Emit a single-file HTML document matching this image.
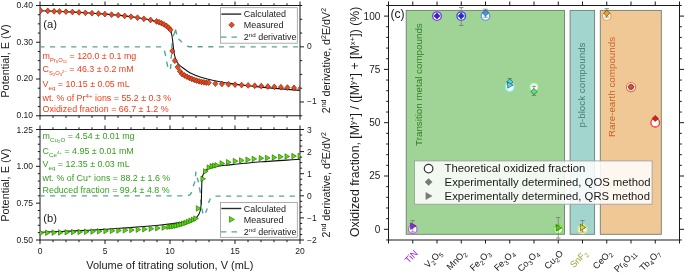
<!DOCTYPE html>
<html><head><meta charset="utf-8"><style>
html,body{margin:0;padding:0;background:#fff;width:685px;height:275px;overflow:hidden;}
svg{display:block;font-family:"Liberation Sans", sans-serif;}
</style></head><body>
<div style="will-change:transform"><svg width="685" height="275" viewBox="0 0 685 275">
<rect width="685" height="275" fill="#fff"/>
<rect x="40.0" y="5.5" width="260.0" height="110.25" fill="none" stroke="#1a1a1a" stroke-width="1"/>
<line x1="40" y1="5.5" x2="40" y2="1.5" stroke="#1a1a1a" stroke-width="1" />
<line x1="40" y1="115.75" x2="40" y2="119.75" stroke="#1a1a1a" stroke-width="1" />
<line x1="53" y1="5.5" x2="53" y2="3.3" stroke="#1a1a1a" stroke-width="1" />
<line x1="53" y1="115.75" x2="53" y2="117.95" stroke="#1a1a1a" stroke-width="1" />
<line x1="66" y1="5.5" x2="66" y2="3.3" stroke="#1a1a1a" stroke-width="1" />
<line x1="66" y1="115.75" x2="66" y2="117.95" stroke="#1a1a1a" stroke-width="1" />
<line x1="79" y1="5.5" x2="79" y2="3.3" stroke="#1a1a1a" stroke-width="1" />
<line x1="79" y1="115.75" x2="79" y2="117.95" stroke="#1a1a1a" stroke-width="1" />
<line x1="92" y1="5.5" x2="92" y2="3.3" stroke="#1a1a1a" stroke-width="1" />
<line x1="92" y1="115.75" x2="92" y2="117.95" stroke="#1a1a1a" stroke-width="1" />
<line x1="105" y1="5.5" x2="105" y2="1.5" stroke="#1a1a1a" stroke-width="1" />
<line x1="105" y1="115.75" x2="105" y2="119.75" stroke="#1a1a1a" stroke-width="1" />
<line x1="118" y1="5.5" x2="118" y2="3.3" stroke="#1a1a1a" stroke-width="1" />
<line x1="118" y1="115.75" x2="118" y2="117.95" stroke="#1a1a1a" stroke-width="1" />
<line x1="131" y1="5.5" x2="131" y2="3.3" stroke="#1a1a1a" stroke-width="1" />
<line x1="131" y1="115.75" x2="131" y2="117.95" stroke="#1a1a1a" stroke-width="1" />
<line x1="144" y1="5.5" x2="144" y2="3.3" stroke="#1a1a1a" stroke-width="1" />
<line x1="144" y1="115.75" x2="144" y2="117.95" stroke="#1a1a1a" stroke-width="1" />
<line x1="157" y1="5.5" x2="157" y2="3.3" stroke="#1a1a1a" stroke-width="1" />
<line x1="157" y1="115.75" x2="157" y2="117.95" stroke="#1a1a1a" stroke-width="1" />
<line x1="170" y1="5.5" x2="170" y2="1.5" stroke="#1a1a1a" stroke-width="1" />
<line x1="170" y1="115.75" x2="170" y2="119.75" stroke="#1a1a1a" stroke-width="1" />
<line x1="183" y1="5.5" x2="183" y2="3.3" stroke="#1a1a1a" stroke-width="1" />
<line x1="183" y1="115.75" x2="183" y2="117.95" stroke="#1a1a1a" stroke-width="1" />
<line x1="196" y1="5.5" x2="196" y2="3.3" stroke="#1a1a1a" stroke-width="1" />
<line x1="196" y1="115.75" x2="196" y2="117.95" stroke="#1a1a1a" stroke-width="1" />
<line x1="209" y1="5.5" x2="209" y2="3.3" stroke="#1a1a1a" stroke-width="1" />
<line x1="209" y1="115.75" x2="209" y2="117.95" stroke="#1a1a1a" stroke-width="1" />
<line x1="222" y1="5.5" x2="222" y2="3.3" stroke="#1a1a1a" stroke-width="1" />
<line x1="222" y1="115.75" x2="222" y2="117.95" stroke="#1a1a1a" stroke-width="1" />
<line x1="235" y1="5.5" x2="235" y2="1.5" stroke="#1a1a1a" stroke-width="1" />
<line x1="235" y1="115.75" x2="235" y2="119.75" stroke="#1a1a1a" stroke-width="1" />
<line x1="248" y1="5.5" x2="248" y2="3.3" stroke="#1a1a1a" stroke-width="1" />
<line x1="248" y1="115.75" x2="248" y2="117.95" stroke="#1a1a1a" stroke-width="1" />
<line x1="261" y1="5.5" x2="261" y2="3.3" stroke="#1a1a1a" stroke-width="1" />
<line x1="261" y1="115.75" x2="261" y2="117.95" stroke="#1a1a1a" stroke-width="1" />
<line x1="274" y1="5.5" x2="274" y2="3.3" stroke="#1a1a1a" stroke-width="1" />
<line x1="274" y1="115.75" x2="274" y2="117.95" stroke="#1a1a1a" stroke-width="1" />
<line x1="287" y1="5.5" x2="287" y2="3.3" stroke="#1a1a1a" stroke-width="1" />
<line x1="287" y1="115.75" x2="287" y2="117.95" stroke="#1a1a1a" stroke-width="1" />
<line x1="300" y1="5.5" x2="300" y2="1.5" stroke="#1a1a1a" stroke-width="1" />
<line x1="300" y1="115.75" x2="300" y2="119.75" stroke="#1a1a1a" stroke-width="1" />
<line x1="40" y1="5.5" x2="36" y2="5.5" stroke="#1a1a1a" stroke-width="1" />
<line x1="40" y1="14.69" x2="37.8" y2="14.69" stroke="#1a1a1a" stroke-width="1" />
<line x1="40" y1="23.87" x2="37.8" y2="23.87" stroke="#1a1a1a" stroke-width="1" />
<line x1="40" y1="33.06" x2="37.8" y2="33.06" stroke="#1a1a1a" stroke-width="1" />
<line x1="40" y1="42.25" x2="36" y2="42.25" stroke="#1a1a1a" stroke-width="1" />
<line x1="40" y1="51.44" x2="37.8" y2="51.44" stroke="#1a1a1a" stroke-width="1" />
<line x1="40" y1="60.63" x2="37.8" y2="60.63" stroke="#1a1a1a" stroke-width="1" />
<line x1="40" y1="69.81" x2="37.8" y2="69.81" stroke="#1a1a1a" stroke-width="1" />
<line x1="40" y1="79" x2="36" y2="79" stroke="#1a1a1a" stroke-width="1" />
<line x1="40" y1="88.19" x2="37.8" y2="88.19" stroke="#1a1a1a" stroke-width="1" />
<line x1="40" y1="97.38" x2="37.8" y2="97.38" stroke="#1a1a1a" stroke-width="1" />
<line x1="40" y1="106.56" x2="37.8" y2="106.56" stroke="#1a1a1a" stroke-width="1" />
<line x1="40" y1="115.75" x2="36" y2="115.75" stroke="#1a1a1a" stroke-width="1" />
<text x="33" y="7.9" font-size="8.5" fill="#1a1a1a" text-anchor="end" >0.40</text>
<text x="33" y="44.65" font-size="8.5" fill="#1a1a1a" text-anchor="end" >0.30</text>
<text x="33" y="81.4" font-size="8.5" fill="#1a1a1a" text-anchor="end" >0.20</text>
<text x="33" y="118.15" font-size="8.5" fill="#1a1a1a" text-anchor="end" >0.10</text>
<line x1="300" y1="5.5" x2="302.2" y2="5.5" stroke="#1a1a1a" stroke-width="1" />
<line x1="300" y1="19.28" x2="302.2" y2="19.28" stroke="#1a1a1a" stroke-width="1" />
<line x1="300" y1="33.06" x2="302.2" y2="33.06" stroke="#1a1a1a" stroke-width="1" />
<line x1="300" y1="46.84" x2="304" y2="46.84" stroke="#1a1a1a" stroke-width="1" />
<line x1="300" y1="60.62" x2="302.2" y2="60.62" stroke="#1a1a1a" stroke-width="1" />
<line x1="300" y1="74.41" x2="302.2" y2="74.41" stroke="#1a1a1a" stroke-width="1" />
<line x1="300" y1="88.19" x2="302.2" y2="88.19" stroke="#1a1a1a" stroke-width="1" />
<line x1="300" y1="101.97" x2="304" y2="101.97" stroke="#1a1a1a" stroke-width="1" />
<line x1="300" y1="115.75" x2="302.2" y2="115.75" stroke="#1a1a1a" stroke-width="1" />
<text x="307" y="49.24" font-size="8.5" fill="#1a1a1a" text-anchor="start" >0</text>
<text x="307" y="104.37" font-size="8.5" fill="#1a1a1a" text-anchor="start" >&#8722;1</text>
<rect x="40.0" y="129.5" width="260.0" height="110.5" fill="none" stroke="#1a1a1a" stroke-width="1"/>
<line x1="40" y1="129.5" x2="40" y2="125.5" stroke="#1a1a1a" stroke-width="1" />
<line x1="40" y1="240" x2="40" y2="244" stroke="#1a1a1a" stroke-width="1" />
<line x1="53" y1="129.5" x2="53" y2="127.3" stroke="#1a1a1a" stroke-width="1" />
<line x1="53" y1="240" x2="53" y2="242.2" stroke="#1a1a1a" stroke-width="1" />
<line x1="66" y1="129.5" x2="66" y2="127.3" stroke="#1a1a1a" stroke-width="1" />
<line x1="66" y1="240" x2="66" y2="242.2" stroke="#1a1a1a" stroke-width="1" />
<line x1="79" y1="129.5" x2="79" y2="127.3" stroke="#1a1a1a" stroke-width="1" />
<line x1="79" y1="240" x2="79" y2="242.2" stroke="#1a1a1a" stroke-width="1" />
<line x1="92" y1="129.5" x2="92" y2="127.3" stroke="#1a1a1a" stroke-width="1" />
<line x1="92" y1="240" x2="92" y2="242.2" stroke="#1a1a1a" stroke-width="1" />
<line x1="105" y1="129.5" x2="105" y2="125.5" stroke="#1a1a1a" stroke-width="1" />
<line x1="105" y1="240" x2="105" y2="244" stroke="#1a1a1a" stroke-width="1" />
<line x1="118" y1="129.5" x2="118" y2="127.3" stroke="#1a1a1a" stroke-width="1" />
<line x1="118" y1="240" x2="118" y2="242.2" stroke="#1a1a1a" stroke-width="1" />
<line x1="131" y1="129.5" x2="131" y2="127.3" stroke="#1a1a1a" stroke-width="1" />
<line x1="131" y1="240" x2="131" y2="242.2" stroke="#1a1a1a" stroke-width="1" />
<line x1="144" y1="129.5" x2="144" y2="127.3" stroke="#1a1a1a" stroke-width="1" />
<line x1="144" y1="240" x2="144" y2="242.2" stroke="#1a1a1a" stroke-width="1" />
<line x1="157" y1="129.5" x2="157" y2="127.3" stroke="#1a1a1a" stroke-width="1" />
<line x1="157" y1="240" x2="157" y2="242.2" stroke="#1a1a1a" stroke-width="1" />
<line x1="170" y1="129.5" x2="170" y2="125.5" stroke="#1a1a1a" stroke-width="1" />
<line x1="170" y1="240" x2="170" y2="244" stroke="#1a1a1a" stroke-width="1" />
<line x1="183" y1="129.5" x2="183" y2="127.3" stroke="#1a1a1a" stroke-width="1" />
<line x1="183" y1="240" x2="183" y2="242.2" stroke="#1a1a1a" stroke-width="1" />
<line x1="196" y1="129.5" x2="196" y2="127.3" stroke="#1a1a1a" stroke-width="1" />
<line x1="196" y1="240" x2="196" y2="242.2" stroke="#1a1a1a" stroke-width="1" />
<line x1="209" y1="129.5" x2="209" y2="127.3" stroke="#1a1a1a" stroke-width="1" />
<line x1="209" y1="240" x2="209" y2="242.2" stroke="#1a1a1a" stroke-width="1" />
<line x1="222" y1="129.5" x2="222" y2="127.3" stroke="#1a1a1a" stroke-width="1" />
<line x1="222" y1="240" x2="222" y2="242.2" stroke="#1a1a1a" stroke-width="1" />
<line x1="235" y1="129.5" x2="235" y2="125.5" stroke="#1a1a1a" stroke-width="1" />
<line x1="235" y1="240" x2="235" y2="244" stroke="#1a1a1a" stroke-width="1" />
<line x1="248" y1="129.5" x2="248" y2="127.3" stroke="#1a1a1a" stroke-width="1" />
<line x1="248" y1="240" x2="248" y2="242.2" stroke="#1a1a1a" stroke-width="1" />
<line x1="261" y1="129.5" x2="261" y2="127.3" stroke="#1a1a1a" stroke-width="1" />
<line x1="261" y1="240" x2="261" y2="242.2" stroke="#1a1a1a" stroke-width="1" />
<line x1="274" y1="129.5" x2="274" y2="127.3" stroke="#1a1a1a" stroke-width="1" />
<line x1="274" y1="240" x2="274" y2="242.2" stroke="#1a1a1a" stroke-width="1" />
<line x1="287" y1="129.5" x2="287" y2="127.3" stroke="#1a1a1a" stroke-width="1" />
<line x1="287" y1="240" x2="287" y2="242.2" stroke="#1a1a1a" stroke-width="1" />
<line x1="300" y1="129.5" x2="300" y2="125.5" stroke="#1a1a1a" stroke-width="1" />
<line x1="300" y1="240" x2="300" y2="244" stroke="#1a1a1a" stroke-width="1" />
<line x1="40" y1="129.5" x2="36" y2="129.5" stroke="#1a1a1a" stroke-width="1" />
<line x1="40" y1="136.87" x2="37.8" y2="136.87" stroke="#1a1a1a" stroke-width="1" />
<line x1="40" y1="144.23" x2="37.8" y2="144.23" stroke="#1a1a1a" stroke-width="1" />
<line x1="40" y1="151.6" x2="37.8" y2="151.6" stroke="#1a1a1a" stroke-width="1" />
<line x1="40" y1="158.97" x2="37.8" y2="158.97" stroke="#1a1a1a" stroke-width="1" />
<line x1="40" y1="166.33" x2="36" y2="166.33" stroke="#1a1a1a" stroke-width="1" />
<line x1="40" y1="173.7" x2="37.8" y2="173.7" stroke="#1a1a1a" stroke-width="1" />
<line x1="40" y1="181.07" x2="37.8" y2="181.07" stroke="#1a1a1a" stroke-width="1" />
<line x1="40" y1="188.43" x2="37.8" y2="188.43" stroke="#1a1a1a" stroke-width="1" />
<line x1="40" y1="195.8" x2="37.8" y2="195.8" stroke="#1a1a1a" stroke-width="1" />
<line x1="40" y1="203.17" x2="36" y2="203.17" stroke="#1a1a1a" stroke-width="1" />
<line x1="40" y1="210.53" x2="37.8" y2="210.53" stroke="#1a1a1a" stroke-width="1" />
<line x1="40" y1="217.9" x2="37.8" y2="217.9" stroke="#1a1a1a" stroke-width="1" />
<line x1="40" y1="225.27" x2="37.8" y2="225.27" stroke="#1a1a1a" stroke-width="1" />
<line x1="40" y1="232.63" x2="37.8" y2="232.63" stroke="#1a1a1a" stroke-width="1" />
<line x1="40" y1="240" x2="36" y2="240" stroke="#1a1a1a" stroke-width="1" />
<text x="33" y="132.5" font-size="8.5" fill="#1a1a1a" text-anchor="end" >1.25</text>
<text x="33" y="169.33" font-size="8.5" fill="#1a1a1a" text-anchor="end" >1.00</text>
<text x="33" y="206.17" font-size="8.5" fill="#1a1a1a" text-anchor="end" >0.75</text>
<text x="33" y="243" font-size="8.5" fill="#1a1a1a" text-anchor="end" >0.50</text>
<line x1="300" y1="129.5" x2="304" y2="129.5" stroke="#1a1a1a" stroke-width="1" />
<line x1="300" y1="135.03" x2="302.2" y2="135.03" stroke="#1a1a1a" stroke-width="1" />
<line x1="300" y1="140.55" x2="302.2" y2="140.55" stroke="#1a1a1a" stroke-width="1" />
<line x1="300" y1="146.07" x2="302.2" y2="146.07" stroke="#1a1a1a" stroke-width="1" />
<line x1="300" y1="151.6" x2="304" y2="151.6" stroke="#1a1a1a" stroke-width="1" />
<line x1="300" y1="157.12" x2="302.2" y2="157.12" stroke="#1a1a1a" stroke-width="1" />
<line x1="300" y1="162.65" x2="302.2" y2="162.65" stroke="#1a1a1a" stroke-width="1" />
<line x1="300" y1="168.18" x2="302.2" y2="168.18" stroke="#1a1a1a" stroke-width="1" />
<line x1="300" y1="173.7" x2="304" y2="173.7" stroke="#1a1a1a" stroke-width="1" />
<line x1="300" y1="179.22" x2="302.2" y2="179.22" stroke="#1a1a1a" stroke-width="1" />
<line x1="300" y1="184.75" x2="302.2" y2="184.75" stroke="#1a1a1a" stroke-width="1" />
<line x1="300" y1="190.28" x2="302.2" y2="190.28" stroke="#1a1a1a" stroke-width="1" />
<line x1="300" y1="195.8" x2="304" y2="195.8" stroke="#1a1a1a" stroke-width="1" />
<line x1="300" y1="201.32" x2="302.2" y2="201.32" stroke="#1a1a1a" stroke-width="1" />
<line x1="300" y1="206.85" x2="302.2" y2="206.85" stroke="#1a1a1a" stroke-width="1" />
<line x1="300" y1="212.38" x2="302.2" y2="212.38" stroke="#1a1a1a" stroke-width="1" />
<line x1="300" y1="217.9" x2="304" y2="217.9" stroke="#1a1a1a" stroke-width="1" />
<line x1="300" y1="223.43" x2="302.2" y2="223.43" stroke="#1a1a1a" stroke-width="1" />
<line x1="300" y1="228.95" x2="302.2" y2="228.95" stroke="#1a1a1a" stroke-width="1" />
<line x1="300" y1="234.47" x2="302.2" y2="234.47" stroke="#1a1a1a" stroke-width="1" />
<line x1="300" y1="240" x2="304" y2="240" stroke="#1a1a1a" stroke-width="1" />
<text x="307" y="132.7" font-size="8.5" fill="#1a1a1a" text-anchor="start" >3</text>
<text x="307" y="154.8" font-size="8.5" fill="#1a1a1a" text-anchor="start" >2</text>
<text x="307" y="176.9" font-size="8.5" fill="#1a1a1a" text-anchor="start" >1</text>
<text x="307" y="199" font-size="8.5" fill="#1a1a1a" text-anchor="start" >0</text>
<text x="307" y="221.1" font-size="8.5" fill="#1a1a1a" text-anchor="start" >&#8722;1</text>
<text x="307" y="243.2" font-size="8.5" fill="#1a1a1a" text-anchor="start" >&#8722;2</text>
<text x="40" y="253.8" font-size="8.5" fill="#1a1a1a" text-anchor="middle" >0</text>
<text x="105" y="253.8" font-size="8.5" fill="#1a1a1a" text-anchor="middle" >5</text>
<text x="170" y="253.8" font-size="8.5" fill="#1a1a1a" text-anchor="middle" >10</text>
<text x="235" y="253.8" font-size="8.5" fill="#1a1a1a" text-anchor="middle" >15</text>
<text x="300" y="253.8" font-size="8.5" fill="#1a1a1a" text-anchor="middle" >20</text>
<text x="169.9" y="269.3" font-size="10.95" fill="#1a1a1a" text-anchor="middle" >Volume of titrating solution, V (mL)</text>
<text x="0" y="0" font-size="10.9" fill="#1a1a1a" text-anchor="middle" transform="translate(8.7,61.02) rotate(-90)">Potential, E (V)</text>
<text x="0" y="0" font-size="10.7" fill="#1a1a1a" text-anchor="middle" transform="translate(329.8,60.62) rotate(-90)">2<tspan font-size="7" dy="-3.5">nd</tspan><tspan dy="3.5"> derivative, d</tspan><tspan font-size="7" dy="-3.5">2</tspan><tspan dy="3.5">E/dV</tspan><tspan font-size="7" dy="-3.5">2</tspan></text>
<text x="0" y="0" font-size="10.9" fill="#1a1a1a" text-anchor="middle" transform="translate(8.7,185.15) rotate(-90)">Potential, E (V)</text>
<text x="0" y="0" font-size="10.7" fill="#1a1a1a" text-anchor="middle" transform="translate(329.8,184.75) rotate(-90)">2<tspan font-size="7" dy="-3.5">nd</tspan><tspan dy="3.5"> derivative, d</tspan><tspan font-size="7" dy="-3.5">2</tspan><tspan dy="3.5">E/dV</tspan><tspan font-size="7" dy="-3.5">2</tspan></text>
<defs><clipPath id="ca"><rect x="40.0" y="5.5" width="260.0" height="110.25"/></clipPath><clipPath id="cb"><rect x="40.0" y="129.5" width="260.0" height="110.5"/></clipPath></defs>
<g clip-path="url(#ca)">
<path d="M39.45,46.9 L161.8,46.9" fill="none" stroke="#52a597" stroke-width="1.4" stroke-linejoin="round" stroke-dasharray="5.1 5.5"/>
<path d="M164.4,50.6 L165.7,56" fill="none" stroke="#52a597" stroke-width="1.4" stroke-linejoin="round" />
<path d="M166.6,61.6 L167.8,66.8" fill="none" stroke="#52a597" stroke-width="1.4" stroke-linejoin="round" />
<path d="M170.5,69 L170.9,64" fill="none" stroke="#52a597" stroke-width="1.4" stroke-linejoin="round" />
<path d="M171.1,58.8 L171.6,53.8" fill="none" stroke="#52a597" stroke-width="1.4" stroke-linejoin="round" />
<path d="M171.7,48 L172.3,43.2" fill="none" stroke="#52a597" stroke-width="1.4" stroke-linejoin="round" />
<path d="M173.2,36.2 L175.6,29.9 L176.7,34.3" fill="none" stroke="#52a597" stroke-width="1.4" stroke-linejoin="round" />
<path d="M178.5,39.1 L180.2,40.5 L182,42.2" fill="none" stroke="#52a597" stroke-width="1.4" stroke-linejoin="round" />
<path d="M187.2,46 L189,46.8 L302,46.9" fill="none" stroke="#52a597" stroke-width="1.4" stroke-linejoin="round" stroke-dasharray="5.1 5.5"/>
<path d="M40,10.8 C42.33,10.87 49.67,11.05 54,11.2 C58.33,11.35 61.83,11.5 66,11.7 C70.17,11.9 74.67,12.15 79,12.4 C83.33,12.65 87.67,12.92 92,13.2 C96.33,13.48 100.67,13.77 105,14.1 C109.33,14.43 113.67,14.78 118,15.2 C122.33,15.62 126.67,16.02 131,16.6 C135.33,17.18 140.5,18.07 144,18.7 C147.5,19.33 149.67,19.8 152,20.4 C154.33,21 156.17,21.6 158,22.3 C159.83,23 161.5,23.82 163,24.6 C164.5,25.38 165.92,26.22 167,27 C168.08,27.78 168.83,28.5 169.5,29.3 C170.17,30.1 170.58,30.68 171,31.8 C171.42,32.92 171.7,34.3 172,36 C172.3,37.7 172.53,39.83 172.8,42 C173.07,44.17 173.32,46.83 173.6,49 C173.88,51.17 174.1,53.2 174.5,55 C174.9,56.8 175.42,58.38 176,59.8 C176.58,61.22 176.88,62.18 178,63.5 C179.12,64.82 180.63,66.12 182.7,67.7 C184.77,69.28 187.22,71.35 190.4,73 C193.58,74.65 197.78,76.3 201.8,77.6 C205.82,78.9 209.8,79.83 214.5,80.8 C219.2,81.77 224.08,82.53 230,83.4 C235.92,84.27 242.5,85.17 250,86 C257.5,86.83 266.67,87.67 275,88.4 C283.33,89.13 295.83,90.07 300,90.4" fill="none" stroke="#111" stroke-width="1.1" stroke-linejoin="round" />
<path d="M40.5,7.7 L43.05,10.6 L40.5,13.5 L37.95,10.6Z" fill="#f5461c" stroke="#5a1e0a" stroke-width="0.6"/>
<path d="M47.8,8 L50.35,10.9 L47.8,13.8 L45.25,10.9Z" fill="#f5461c" stroke="#5a1e0a" stroke-width="0.6"/>
<path d="M54.1,8.4 L56.65,11.3 L54.1,14.2 L51.55,11.3Z" fill="#f5461c" stroke="#5a1e0a" stroke-width="0.6"/>
<path d="M59.5,8.6 L62.05,11.5 L59.5,14.4 L56.95,11.5Z" fill="#f5461c" stroke="#5a1e0a" stroke-width="0.6"/>
<path d="M66,8.8 L68.55,11.7 L66,14.6 L63.45,11.7Z" fill="#f5461c" stroke="#5a1e0a" stroke-width="0.6"/>
<path d="M72.4,9.1 L74.95,12 L72.4,14.9 L69.85,12Z" fill="#f5461c" stroke="#5a1e0a" stroke-width="0.6"/>
<path d="M79,9.5 L81.55,12.4 L79,15.3 L76.45,12.4Z" fill="#f5461c" stroke="#5a1e0a" stroke-width="0.6"/>
<path d="M85.4,9.9 L87.95,12.8 L85.4,15.7 L82.85,12.8Z" fill="#f5461c" stroke="#5a1e0a" stroke-width="0.6"/>
<path d="M92,10.3 L94.55,13.2 L92,16.1 L89.45,13.2Z" fill="#f5461c" stroke="#5a1e0a" stroke-width="0.6"/>
<path d="M98.5,10.7 L101.05,13.6 L98.5,16.5 L95.95,13.6Z" fill="#f5461c" stroke="#5a1e0a" stroke-width="0.6"/>
<path d="M104.9,11.2 L107.45,14.1 L104.9,17 L102.35,14.1Z" fill="#f5461c" stroke="#5a1e0a" stroke-width="0.6"/>
<path d="M111.6,11.8 L114.15,14.7 L111.6,17.6 L109.05,14.7Z" fill="#f5461c" stroke="#5a1e0a" stroke-width="0.6"/>
<path d="M118.2,12.3 L120.75,15.2 L118.2,18.1 L115.65,15.2Z" fill="#f5461c" stroke="#5a1e0a" stroke-width="0.6"/>
<path d="M124.7,13 L127.25,15.9 L124.7,18.8 L122.15,15.9Z" fill="#f5461c" stroke="#5a1e0a" stroke-width="0.6"/>
<path d="M131,13.8 L133.55,16.7 L131,19.6 L128.45,16.7Z" fill="#f5461c" stroke="#5a1e0a" stroke-width="0.6"/>
<path d="M137.5,14.8 L140.05,17.7 L137.5,20.6 L134.95,17.7Z" fill="#f5461c" stroke="#5a1e0a" stroke-width="0.6"/>
<path d="M143.9,15.9 L146.45,18.8 L143.9,21.7 L141.35,18.8Z" fill="#f5461c" stroke="#5a1e0a" stroke-width="0.6"/>
<path d="M150.5,17.1 L153.05,20 L150.5,22.9 L147.95,20Z" fill="#f5461c" stroke="#5a1e0a" stroke-width="0.6"/>
<path d="M156.5,18.5 L159.05,21.4 L156.5,24.3 L153.95,21.4Z" fill="#f5461c" stroke="#5a1e0a" stroke-width="0.6"/>
<path d="M159,19.3 L161.55,22.2 L159,25.1 L156.45,22.2Z" fill="#f5461c" stroke="#5a1e0a" stroke-width="0.6"/>
<path d="M161.5,20.3 L164.05,23.2 L161.5,26.1 L158.95,23.2Z" fill="#f5461c" stroke="#5a1e0a" stroke-width="0.6"/>
<path d="M164,21.5 L166.55,24.4 L164,27.3 L161.45,24.4Z" fill="#f5461c" stroke="#5a1e0a" stroke-width="0.6"/>
<path d="M166.4,23 L168.95,25.9 L166.4,28.8 L163.85,25.9Z" fill="#f5461c" stroke="#5a1e0a" stroke-width="0.6"/>
<path d="M168.6,24.8 L171.15,27.7 L168.6,30.6 L166.05,27.7Z" fill="#f5461c" stroke="#5a1e0a" stroke-width="0.6"/>
<path d="M170.5,26.9 L173.05,29.8 L170.5,32.7 L167.95,29.8Z" fill="#f5461c" stroke="#5a1e0a" stroke-width="0.6"/>
<path d="M172.3,48.1 L174.85,51 L172.3,53.9 L169.75,51Z" fill="#f5461c" stroke="#5a1e0a" stroke-width="0.6"/>
<path d="M174.8,57.8 L177.35,60.7 L174.8,63.6 L172.25,60.7Z" fill="#f5461c" stroke="#5a1e0a" stroke-width="0.6"/>
<path d="M177.6,64.2 L180.15,67.1 L177.6,70 L175.05,67.1Z" fill="#f5461c" stroke="#5a1e0a" stroke-width="0.6"/>
<path d="M179.9,68.4 L182.45,71.3 L179.9,74.2 L177.35,71.3Z" fill="#f5461c" stroke="#5a1e0a" stroke-width="0.6"/>
<path d="M182.1,71.2 L184.65,74.1 L182.1,77 L179.55,74.1Z" fill="#f5461c" stroke="#5a1e0a" stroke-width="0.6"/>
<path d="M184.52,72.56 L187.07,75.46 L184.52,78.36 L181.97,75.46Z" fill="#f5461c" stroke="#5a1e0a" stroke-width="0.6"/>
<path d="M186.94,73.81 L189.49,76.71 L186.94,79.61 L184.39,76.71Z" fill="#f5461c" stroke="#5a1e0a" stroke-width="0.6"/>
<path d="M189.36,74.95 L191.91,77.85 L189.36,80.75 L186.81,77.85Z" fill="#f5461c" stroke="#5a1e0a" stroke-width="0.6"/>
<path d="M191.78,75.99 L194.33,78.89 L191.78,81.79 L189.23,78.89Z" fill="#f5461c" stroke="#5a1e0a" stroke-width="0.6"/>
<path d="M194.2,76.91 L196.75,79.81 L194.2,82.71 L191.65,79.81Z" fill="#f5461c" stroke="#5a1e0a" stroke-width="0.6"/>
<path d="M196.62,77.72 L199.17,80.62 L196.62,83.52 L194.07,80.62Z" fill="#f5461c" stroke="#5a1e0a" stroke-width="0.6"/>
<path d="M199.04,78.41 L201.59,81.31 L199.04,84.21 L196.49,81.31Z" fill="#f5461c" stroke="#5a1e0a" stroke-width="0.6"/>
<path d="M201.46,78.97 L204.01,81.87 L201.46,84.77 L198.91,81.87Z" fill="#f5461c" stroke="#5a1e0a" stroke-width="0.6"/>
<path d="M203.88,79.4 L206.43,82.3 L203.88,85.2 L201.33,82.3Z" fill="#f5461c" stroke="#5a1e0a" stroke-width="0.6"/>
<path d="M206.3,79.69 L208.85,82.59 L206.3,85.49 L203.75,82.59Z" fill="#f5461c" stroke="#5a1e0a" stroke-width="0.6"/>
<path d="M208.72,79.8 L211.27,82.7 L208.72,85.6 L206.17,82.7Z" fill="#f5461c" stroke="#5a1e0a" stroke-width="0.6"/>
<path d="M215.4,80.7 L217.95,83.6 L215.4,86.5 L212.85,83.6Z" fill="#f5461c" stroke="#5a1e0a" stroke-width="0.6"/>
<path d="M221.95,81.06 L224.5,83.96 L221.95,86.86 L219.4,83.96Z" fill="#f5461c" stroke="#5a1e0a" stroke-width="0.6"/>
<path d="M228.5,81.42 L231.05,84.32 L228.5,87.22 L225.95,84.32Z" fill="#f5461c" stroke="#5a1e0a" stroke-width="0.6"/>
<path d="M235.05,81.78 L237.6,84.68 L235.05,87.58 L232.5,84.68Z" fill="#f5461c" stroke="#5a1e0a" stroke-width="0.6"/>
<path d="M241.6,82.14 L244.15,85.04 L241.6,87.94 L239.05,85.04Z" fill="#f5461c" stroke="#5a1e0a" stroke-width="0.6"/>
<path d="M248.15,82.5 L250.7,85.4 L248.15,88.3 L245.6,85.4Z" fill="#f5461c" stroke="#5a1e0a" stroke-width="0.6"/>
<path d="M254.7,82.86 L257.25,85.76 L254.7,88.66 L252.15,85.76Z" fill="#f5461c" stroke="#5a1e0a" stroke-width="0.6"/>
<path d="M261.25,83.22 L263.8,86.12 L261.25,89.02 L258.7,86.12Z" fill="#f5461c" stroke="#5a1e0a" stroke-width="0.6"/>
<path d="M267.8,83.58 L270.35,86.48 L267.8,89.38 L265.25,86.48Z" fill="#f5461c" stroke="#5a1e0a" stroke-width="0.6"/>
<path d="M274.35,83.94 L276.9,86.84 L274.35,89.74 L271.8,86.84Z" fill="#f5461c" stroke="#5a1e0a" stroke-width="0.6"/>
<path d="M280.9,84.3 L283.45,87.2 L280.9,90.1 L278.35,87.2Z" fill="#f5461c" stroke="#5a1e0a" stroke-width="0.6"/>
<path d="M287.45,84.66 L290,87.56 L287.45,90.46 L284.9,87.56Z" fill="#f5461c" stroke="#5a1e0a" stroke-width="0.6"/>
<path d="M294,85.02 L296.55,87.92 L294,90.82 L291.45,87.92Z" fill="#f5461c" stroke="#5a1e0a" stroke-width="0.6"/>
<path d="M300.55,85.38 L303.1,88.28 L300.55,91.18 L298,88.28Z" fill="#f5461c" stroke="#5a1e0a" stroke-width="0.6"/>
<path d="M307.1,85.74 L309.65,88.64 L307.1,91.54 L304.55,88.64Z" fill="#f5461c" stroke="#5a1e0a" stroke-width="0.6"/>
</g>
<g clip-path="url(#cb)">
<path d="M39.45,195.9 L187.9,195.9" fill="none" stroke="#52a597" stroke-width="1.4" stroke-linejoin="round" stroke-dasharray="5.1 5.5"/>
<path d="M187.9,195.7 L190.2,194.6 L191.7,192.2" fill="none" stroke="#52a597" stroke-width="1.4" stroke-linejoin="round" />
<path d="M193.3,186.3 L194.9,181.4" fill="none" stroke="#52a597" stroke-width="1.4" stroke-linejoin="round" />
<path d="M195.5,176.3 L195.9,171.6" fill="none" stroke="#52a597" stroke-width="1.4" stroke-linejoin="round" />
<path d="M197.2,177.6 L198.5,182.3" fill="none" stroke="#52a597" stroke-width="1.4" stroke-linejoin="round" />
<path d="M199.3,187.4 L200.4,192.8" fill="none" stroke="#52a597" stroke-width="1.4" stroke-linejoin="round" />
<path d="M200.7,199.6 L201.5,204.5" fill="none" stroke="#52a597" stroke-width="1.4" stroke-linejoin="round" />
<path d="M201.8,208.4 L202.9,213.3" fill="none" stroke="#52a597" stroke-width="1.4" stroke-linejoin="round" />
<path d="M205.6,212.7 L207.3,208.4" fill="none" stroke="#52a597" stroke-width="1.4" stroke-linejoin="round" />
<path d="M208.4,202.9 L210.5,198.5" fill="none" stroke="#52a597" stroke-width="1.4" stroke-linejoin="round" />
<path d="M215.5,196.1 L302,196.1" fill="none" stroke="#52a597" stroke-width="1.4" stroke-linejoin="round" stroke-dasharray="5.1 5.5"/>
<path d="M40,232.3 C43.33,232.17 53.33,231.78 60,231.5 C66.67,231.22 73.33,230.92 80,230.6 C86.67,230.28 93.33,229.98 100,229.6 C106.67,229.22 113.33,228.77 120,228.3 C126.67,227.83 132.83,227.4 140,226.8 C147.17,226.2 156.33,225.4 163,224.7 C169.67,224 175.5,223.22 180,222.6 C184.5,221.98 187.48,221.67 190,221 C192.52,220.33 193.62,219.73 195.1,218.6 C196.58,217.47 197.98,215.8 198.9,214.2 C199.82,212.6 200.2,211.03 200.6,209 C201,206.97 201.13,205.17 201.3,202 C201.47,198.83 201.47,193.83 201.6,190 C201.73,186.17 201.83,181.63 202.1,179 C202.37,176.37 202.72,175.53 203.2,174.2 C203.68,172.87 204.2,171.9 205,171 C205.8,170.1 207,169.37 208,168.8 C209,168.23 209.83,167.97 211,167.6 C212.17,167.23 212.67,166.98 215,166.6 C217.33,166.22 221.67,165.68 225,165.3 C228.33,164.92 231.67,164.63 235,164.3 C238.33,163.97 241.67,163.63 245,163.3 C248.33,162.97 251.67,162.58 255,162.3 C258.33,162.02 261.67,161.83 265,161.6 C268.33,161.37 271.33,161.15 275,160.9 C278.67,160.65 282.83,160.37 287,160.1 C291.17,159.83 297.83,159.43 300,159.3" fill="none" stroke="#111" stroke-width="1.1" stroke-linejoin="round" />
<path d="M39.1,230.21 L43.7,232.96 L39.1,235.71Z" fill="#50e400" stroke="#1d4d00" stroke-width="0.55"/>
<path d="M45.57,230.04 L50.17,232.79 L45.57,235.54Z" fill="#50e400" stroke="#1d4d00" stroke-width="0.55"/>
<path d="M52.04,229.86 L56.64,232.61 L52.04,235.36Z" fill="#50e400" stroke="#1d4d00" stroke-width="0.55"/>
<path d="M58.51,229.69 L63.11,232.44 L58.51,235.19Z" fill="#50e400" stroke="#1d4d00" stroke-width="0.55"/>
<path d="M64.98,229.52 L69.58,232.27 L64.98,235.02Z" fill="#50e400" stroke="#1d4d00" stroke-width="0.55"/>
<path d="M71.45,229.34 L76.05,232.09 L71.45,234.84Z" fill="#50e400" stroke="#1d4d00" stroke-width="0.55"/>
<path d="M77.92,229.17 L82.52,231.92 L77.92,234.67Z" fill="#50e400" stroke="#1d4d00" stroke-width="0.55"/>
<path d="M84.39,228.99 L88.99,231.74 L84.39,234.49Z" fill="#50e400" stroke="#1d4d00" stroke-width="0.55"/>
<path d="M90.86,228.81 L95.46,231.56 L90.86,234.31Z" fill="#50e400" stroke="#1d4d00" stroke-width="0.55"/>
<path d="M97.33,228.56 L101.93,231.31 L97.33,234.06Z" fill="#50e400" stroke="#1d4d00" stroke-width="0.55"/>
<path d="M103.8,228.31 L108.4,231.06 L103.8,233.81Z" fill="#50e400" stroke="#1d4d00" stroke-width="0.55"/>
<path d="M110.27,228.06 L114.87,230.81 L110.27,233.56Z" fill="#50e400" stroke="#1d4d00" stroke-width="0.55"/>
<path d="M116.74,227.81 L121.34,230.56 L116.74,233.31Z" fill="#50e400" stroke="#1d4d00" stroke-width="0.55"/>
<path d="M123.21,227.56 L127.81,230.31 L123.21,233.06Z" fill="#50e400" stroke="#1d4d00" stroke-width="0.55"/>
<path d="M129.68,227.29 L134.28,230.04 L129.68,232.79Z" fill="#50e400" stroke="#1d4d00" stroke-width="0.55"/>
<path d="M136.15,226.88 L140.75,229.63 L136.15,232.38Z" fill="#50e400" stroke="#1d4d00" stroke-width="0.55"/>
<path d="M142.62,226.47 L147.22,229.22 L142.62,231.97Z" fill="#50e400" stroke="#1d4d00" stroke-width="0.55"/>
<path d="M149.09,226.02 L153.69,228.77 L149.09,231.52Z" fill="#50e400" stroke="#1d4d00" stroke-width="0.55"/>
<path d="M155.56,225.42 L160.16,228.17 L155.56,230.92Z" fill="#50e400" stroke="#1d4d00" stroke-width="0.55"/>
<path d="M162.03,224.81 L166.63,227.56 L162.03,230.31Z" fill="#50e400" stroke="#1d4d00" stroke-width="0.55"/>
<path d="M166.8,223.95 L171.4,226.7 L166.8,229.45Z" fill="#50e400" stroke="#1d4d00" stroke-width="0.55"/>
<path d="M169.25,223.78 L173.85,226.53 L169.25,229.28Z" fill="#50e400" stroke="#1d4d00" stroke-width="0.55"/>
<path d="M171.7,223.42 L176.3,226.17 L171.7,228.92Z" fill="#50e400" stroke="#1d4d00" stroke-width="0.55"/>
<path d="M174.15,222.94 L178.75,225.69 L174.15,228.44Z" fill="#50e400" stroke="#1d4d00" stroke-width="0.55"/>
<path d="M176.6,222.34 L181.2,225.09 L176.6,227.84Z" fill="#50e400" stroke="#1d4d00" stroke-width="0.55"/>
<path d="M179.05,221.66 L183.65,224.41 L179.05,227.16Z" fill="#50e400" stroke="#1d4d00" stroke-width="0.55"/>
<path d="M181.5,220.88 L186.1,223.63 L181.5,226.38Z" fill="#50e400" stroke="#1d4d00" stroke-width="0.55"/>
<path d="M183.95,220.02 L188.55,222.77 L183.95,225.52Z" fill="#50e400" stroke="#1d4d00" stroke-width="0.55"/>
<path d="M186.4,219.08 L191,221.83 L186.4,224.58Z" fill="#50e400" stroke="#1d4d00" stroke-width="0.55"/>
<path d="M188.85,218.07 L193.45,220.82 L188.85,223.57Z" fill="#50e400" stroke="#1d4d00" stroke-width="0.55"/>
<path d="M191.3,217 L195.9,219.75 L191.3,222.5Z" fill="#50e400" stroke="#1d4d00" stroke-width="0.55"/>
<path d="M193.75,215.85 L198.35,218.6 L193.75,221.35Z" fill="#50e400" stroke="#1d4d00" stroke-width="0.55"/>
<path d="M196.3,205.65 L200.9,208.4 L196.3,211.15Z" fill="#50e400" stroke="#1d4d00" stroke-width="0.55"/>
<path d="M200.9,176.05 L205.5,178.8 L200.9,181.55Z" fill="#50e400" stroke="#1d4d00" stroke-width="0.55"/>
<path d="M203.5,168.65 L208.1,171.4 L203.5,174.15Z" fill="#50e400" stroke="#1d4d00" stroke-width="0.55"/>
<path d="M207.1,164.85 L211.7,167.6 L207.1,170.35Z" fill="#50e400" stroke="#1d4d00" stroke-width="0.55"/>
<path d="M210,163.55 L214.6,166.3 L210,169.05Z" fill="#50e400" stroke="#1d4d00" stroke-width="0.55"/>
<path d="M212.4,163.05 L217,165.8 L212.4,168.55Z" fill="#50e400" stroke="#1d4d00" stroke-width="0.55"/>
<path d="M214.9,162.55 L219.5,165.3 L214.9,168.05Z" fill="#50e400" stroke="#1d4d00" stroke-width="0.55"/>
<path d="M220,160.65 L224.6,163.4 L220,166.15Z" fill="#50e400" stroke="#1d4d00" stroke-width="0.55"/>
<path d="M226.5,159.45 L231.1,162.2 L226.5,164.95Z" fill="#50e400" stroke="#1d4d00" stroke-width="0.55"/>
<path d="M233.2,158.35 L237.8,161.1 L233.2,163.85Z" fill="#50e400" stroke="#1d4d00" stroke-width="0.55"/>
<path d="M239.5,157.65 L244.1,160.4 L239.5,163.15Z" fill="#50e400" stroke="#1d4d00" stroke-width="0.55"/>
<path d="M245.9,156.95 L250.5,159.7 L245.9,162.45Z" fill="#50e400" stroke="#1d4d00" stroke-width="0.55"/>
<path d="M252.1,156.15 L256.7,158.9 L252.1,161.65Z" fill="#50e400" stroke="#1d4d00" stroke-width="0.55"/>
<path d="M259.1,155.45 L263.7,158.2 L259.1,160.95Z" fill="#50e400" stroke="#1d4d00" stroke-width="0.55"/>
<path d="M265.4,155.15 L270,157.9 L265.4,160.65Z" fill="#50e400" stroke="#1d4d00" stroke-width="0.55"/>
<path d="M272.2,154.75 L276.8,157.5 L272.2,160.25Z" fill="#50e400" stroke="#1d4d00" stroke-width="0.55"/>
<path d="M278.6,154.05 L283.2,156.8 L278.6,159.55Z" fill="#50e400" stroke="#1d4d00" stroke-width="0.55"/>
<path d="M285,153.75 L289.6,156.5 L285,159.25Z" fill="#50e400" stroke="#1d4d00" stroke-width="0.55"/>
<path d="M291.8,153.35 L296.4,156.1 L291.8,158.85Z" fill="#50e400" stroke="#1d4d00" stroke-width="0.55"/>
<path d="M298,153.15 L302.6,155.9 L298,158.65Z" fill="#50e400" stroke="#1d4d00" stroke-width="0.55"/>
</g>
<text x="42.6" y="59.2" font-size="8.9" fill="#f03c18">m<tspan font-size="5.8" dy="2.6">Pr</tspan><tspan font-size="4.2" dy="1.2">6</tspan><tspan font-size="5.8" dy="-1.2">O</tspan><tspan font-size="4.2" dy="1.2">11</tspan><tspan dy="-3.8"> = 120.0 ± 0.1 mg</tspan></text>
<text x="42.6" y="72.4" font-size="8.9" fill="#f03c18">C<tspan font-size="5.8" dy="2.6">S</tspan><tspan font-size="4.2" dy="1.2">2</tspan><tspan font-size="5.8" dy="-1.2">O</tspan><tspan font-size="4.2" dy="1.2">3</tspan><tspan font-size="4.2" dy="-3.4">2−</tspan><tspan dy="-0.6"> = 46.3 ± 0.2 mM</tspan></text>
<text x="42.6" y="87.0" font-size="8.9" fill="#f03c18">V<tspan font-size="6.2" dy="2.6">eq</tspan><tspan dy="-2.6"> = 10.15 ± 0.05 mL</tspan></text>
<text x="42.6" y="101.0" font-size="8.9" fill="#f03c18">wt. % of Pr<tspan font-size="6.2" dy="-3.4">4+</tspan><tspan dy="3.4"> ions = 55.2 ± 0.3 %</tspan></text>
<text x="42.6" y="112.0" font-size="8.9" fill="#f03c18">Oxidized fraction = 66.7 ± 1.2 %</text>
<text x="42.6" y="139.4" font-size="8.9" fill="#36a020">m<tspan font-size="6.2" dy="2.6">Cu</tspan><tspan font-size="4.4" dy="1.0">2</tspan><tspan font-size="6.2" dy="-1.0">O</tspan><tspan dy="-2.6"> = 4.54 ± 0.01 mg</tspan></text>
<text x="42.6" y="154.1" font-size="8.9" fill="#36a020">C<tspan font-size="6.2" dy="2.6">Ce</tspan><tspan font-size="4.4" dy="-2.6">4+</tspan><tspan dy="0"> = 4.95 ± 0.01 mM</tspan></text>
<text x="42.6" y="167.1" font-size="8.9" fill="#36a020">V<tspan font-size="6.2" dy="2.6">eq</tspan><tspan dy="-2.6"> = 12.35 ± 0.03 mL</tspan></text>
<text x="42.6" y="181.3" font-size="8.9" fill="#36a020">wt. % of Cu<tspan font-size="6.2" dy="-3.4">+</tspan><tspan dy="3.4"> ions = 88.2 ± 1.6 %</tspan></text>
<text x="42.6" y="192.5" font-size="8.9" fill="#36a020">Reduced fraction = 99.4 ± 4.8 %</text>
<text x="43.2" y="27.6" font-size="11.2" fill="#1a1a1a" text-anchor="start" >(a)</text>
<text x="43.2" y="222.4" font-size="11.2" fill="#1a1a1a" text-anchor="start" >(b)</text>
<rect x="220.5" y="7.7" width="76.8" height="35.5" fill="#fff" stroke="#9a9a9a" stroke-width="0.8"/>
<line x1="221.3" y1="14.1" x2="241.3" y2="14.1" stroke="#2a2a2a" stroke-width="1.4" />
<text x="243.8" y="17" font-size="8.95" fill="#1a1a1a" text-anchor="start" >Calculated</text>
<path d="M231.6,22 L234.4,24.9 L231.6,27.8 L228.8,24.9Z" fill="#f5461c" stroke="#5a1e0a" stroke-width="0.6"/>
<text x="243.8" y="27.8" font-size="8.95" fill="#1a1a1a" text-anchor="start" >Measured</text>
<line x1="221" y1="37.1" x2="237.2" y2="37.1" stroke="#52a597" stroke-width="1.4" stroke-dasharray="5.5 5"/>
<text x="243.8" y="40.1" font-size="8.95" fill="#1a1a1a">2<tspan font-size="6.2" dy="-3.4">nd</tspan><tspan dy="3.4"> derivative</tspan></text>
<rect x="220.5" y="202.5" width="76.8" height="34.8" fill="#fff" stroke="#9a9a9a" stroke-width="0.8"/>
<line x1="221.3" y1="208.5" x2="241.3" y2="208.5" stroke="#2a2a2a" stroke-width="1.4" />
<text x="243.8" y="211.8" font-size="8.95" fill="#1a1a1a" text-anchor="start" >Calculated</text>
<path d="M229.4,216.45 L234.4,219.4 L229.4,222.35Z" fill="#50e400" stroke="#1d4d00" stroke-width="0.55"/>
<text x="243.8" y="222.6" font-size="8.95" fill="#1a1a1a" text-anchor="start" >Measured</text>
<line x1="221" y1="231.9" x2="237.2" y2="231.9" stroke="#52a597" stroke-width="1.4" stroke-dasharray="5.5 5"/>
<text x="243.8" y="234.9" font-size="8.95" fill="#1a1a1a">2<tspan font-size="6.2" dy="-3.4">nd</tspan><tspan dy="3.4"> derivative</tspan></text>
<rect x="406.2" y="10.4" width="158.3" height="223.9" fill="#a0d497" stroke="#6f7f6f" stroke-width="0.9"/>
<rect x="570.1" y="10.4" width="24.5" height="223.9" fill="#a2d5cd" stroke="#6f7f6f" stroke-width="0.9"/>
<rect x="600.3" y="10.4" width="61" height="223.9" fill="#f0c896" stroke="#6f7f6f" stroke-width="0.9"/>
<text font-size="9.8" fill="#2f7d2a" text-anchor="middle" transform="translate(421.6,84.6) rotate(-90)">Transition metal compounds</text>
<text font-size="9.8" fill="#427c78" text-anchor="middle" transform="translate(585.2,85.0) rotate(-90)">p-block compounds</text>
<text font-size="9.8" fill="#c6632a" text-anchor="middle" transform="translate(615.0,87.0) rotate(-90)">Rare-earth compounds</text>
<rect x="388.5" y="5.5" width="291.0" height="234.5" fill="none" stroke="#1a1a1a" stroke-width="1"/>
<line x1="388.5" y1="5.5" x2="388.5" y2="1.5" stroke="#1a1a1a" stroke-width="1" />
<line x1="388.5" y1="240" x2="388.5" y2="243.5" stroke="#1a1a1a" stroke-width="1" />
<line x1="412.75" y1="5.5" x2="412.75" y2="1.5" stroke="#1a1a1a" stroke-width="1" />
<line x1="412.75" y1="240" x2="412.75" y2="243.5" stroke="#1a1a1a" stroke-width="1" />
<line x1="437" y1="5.5" x2="437" y2="1.5" stroke="#1a1a1a" stroke-width="1" />
<line x1="437" y1="240" x2="437" y2="243.5" stroke="#1a1a1a" stroke-width="1" />
<line x1="461.25" y1="5.5" x2="461.25" y2="1.5" stroke="#1a1a1a" stroke-width="1" />
<line x1="461.25" y1="240" x2="461.25" y2="243.5" stroke="#1a1a1a" stroke-width="1" />
<line x1="485.5" y1="5.5" x2="485.5" y2="1.5" stroke="#1a1a1a" stroke-width="1" />
<line x1="485.5" y1="240" x2="485.5" y2="243.5" stroke="#1a1a1a" stroke-width="1" />
<line x1="509.75" y1="5.5" x2="509.75" y2="1.5" stroke="#1a1a1a" stroke-width="1" />
<line x1="509.75" y1="240" x2="509.75" y2="243.5" stroke="#1a1a1a" stroke-width="1" />
<line x1="534" y1="5.5" x2="534" y2="1.5" stroke="#1a1a1a" stroke-width="1" />
<line x1="534" y1="240" x2="534" y2="243.5" stroke="#1a1a1a" stroke-width="1" />
<line x1="558.25" y1="5.5" x2="558.25" y2="1.5" stroke="#1a1a1a" stroke-width="1" />
<line x1="558.25" y1="240" x2="558.25" y2="243.5" stroke="#1a1a1a" stroke-width="1" />
<line x1="582.5" y1="5.5" x2="582.5" y2="1.5" stroke="#1a1a1a" stroke-width="1" />
<line x1="582.5" y1="240" x2="582.5" y2="243.5" stroke="#1a1a1a" stroke-width="1" />
<line x1="606.75" y1="5.5" x2="606.75" y2="1.5" stroke="#1a1a1a" stroke-width="1" />
<line x1="606.75" y1="240" x2="606.75" y2="243.5" stroke="#1a1a1a" stroke-width="1" />
<line x1="631" y1="5.5" x2="631" y2="1.5" stroke="#1a1a1a" stroke-width="1" />
<line x1="631" y1="240" x2="631" y2="243.5" stroke="#1a1a1a" stroke-width="1" />
<line x1="655.25" y1="5.5" x2="655.25" y2="1.5" stroke="#1a1a1a" stroke-width="1" />
<line x1="655.25" y1="240" x2="655.25" y2="243.5" stroke="#1a1a1a" stroke-width="1" />
<line x1="679.5" y1="5.5" x2="679.5" y2="1.5" stroke="#1a1a1a" stroke-width="1" />
<line x1="679.5" y1="240" x2="679.5" y2="243.5" stroke="#1a1a1a" stroke-width="1" />
<line x1="388.5" y1="239.96" x2="386.2" y2="239.96" stroke="#1a1a1a" stroke-width="1" />
<line x1="679.5" y1="239.96" x2="681.8" y2="239.96" stroke="#1a1a1a" stroke-width="1" />
<line x1="388.5" y1="229.3" x2="384" y2="229.3" stroke="#1a1a1a" stroke-width="1" />
<line x1="679.5" y1="229.3" x2="684" y2="229.3" stroke="#1a1a1a" stroke-width="1" />
<line x1="388.5" y1="218.64" x2="386.2" y2="218.64" stroke="#1a1a1a" stroke-width="1" />
<line x1="679.5" y1="218.64" x2="681.8" y2="218.64" stroke="#1a1a1a" stroke-width="1" />
<line x1="388.5" y1="207.98" x2="386.2" y2="207.98" stroke="#1a1a1a" stroke-width="1" />
<line x1="679.5" y1="207.98" x2="681.8" y2="207.98" stroke="#1a1a1a" stroke-width="1" />
<line x1="388.5" y1="197.32" x2="386.2" y2="197.32" stroke="#1a1a1a" stroke-width="1" />
<line x1="679.5" y1="197.32" x2="681.8" y2="197.32" stroke="#1a1a1a" stroke-width="1" />
<line x1="388.5" y1="186.66" x2="386.2" y2="186.66" stroke="#1a1a1a" stroke-width="1" />
<line x1="679.5" y1="186.66" x2="681.8" y2="186.66" stroke="#1a1a1a" stroke-width="1" />
<line x1="388.5" y1="176" x2="384" y2="176" stroke="#1a1a1a" stroke-width="1" />
<line x1="679.5" y1="176" x2="684" y2="176" stroke="#1a1a1a" stroke-width="1" />
<line x1="388.5" y1="165.34" x2="386.2" y2="165.34" stroke="#1a1a1a" stroke-width="1" />
<line x1="679.5" y1="165.34" x2="681.8" y2="165.34" stroke="#1a1a1a" stroke-width="1" />
<line x1="388.5" y1="154.68" x2="386.2" y2="154.68" stroke="#1a1a1a" stroke-width="1" />
<line x1="679.5" y1="154.68" x2="681.8" y2="154.68" stroke="#1a1a1a" stroke-width="1" />
<line x1="388.5" y1="144.02" x2="386.2" y2="144.02" stroke="#1a1a1a" stroke-width="1" />
<line x1="679.5" y1="144.02" x2="681.8" y2="144.02" stroke="#1a1a1a" stroke-width="1" />
<line x1="388.5" y1="133.36" x2="386.2" y2="133.36" stroke="#1a1a1a" stroke-width="1" />
<line x1="679.5" y1="133.36" x2="681.8" y2="133.36" stroke="#1a1a1a" stroke-width="1" />
<line x1="388.5" y1="122.7" x2="384" y2="122.7" stroke="#1a1a1a" stroke-width="1" />
<line x1="679.5" y1="122.7" x2="684" y2="122.7" stroke="#1a1a1a" stroke-width="1" />
<line x1="388.5" y1="112.04" x2="386.2" y2="112.04" stroke="#1a1a1a" stroke-width="1" />
<line x1="679.5" y1="112.04" x2="681.8" y2="112.04" stroke="#1a1a1a" stroke-width="1" />
<line x1="388.5" y1="101.38" x2="386.2" y2="101.38" stroke="#1a1a1a" stroke-width="1" />
<line x1="679.5" y1="101.38" x2="681.8" y2="101.38" stroke="#1a1a1a" stroke-width="1" />
<line x1="388.5" y1="90.72" x2="386.2" y2="90.72" stroke="#1a1a1a" stroke-width="1" />
<line x1="679.5" y1="90.72" x2="681.8" y2="90.72" stroke="#1a1a1a" stroke-width="1" />
<line x1="388.5" y1="80.06" x2="386.2" y2="80.06" stroke="#1a1a1a" stroke-width="1" />
<line x1="679.5" y1="80.06" x2="681.8" y2="80.06" stroke="#1a1a1a" stroke-width="1" />
<line x1="388.5" y1="69.4" x2="384" y2="69.4" stroke="#1a1a1a" stroke-width="1" />
<line x1="679.5" y1="69.4" x2="684" y2="69.4" stroke="#1a1a1a" stroke-width="1" />
<line x1="388.5" y1="58.74" x2="386.2" y2="58.74" stroke="#1a1a1a" stroke-width="1" />
<line x1="679.5" y1="58.74" x2="681.8" y2="58.74" stroke="#1a1a1a" stroke-width="1" />
<line x1="388.5" y1="48.08" x2="386.2" y2="48.08" stroke="#1a1a1a" stroke-width="1" />
<line x1="679.5" y1="48.08" x2="681.8" y2="48.08" stroke="#1a1a1a" stroke-width="1" />
<line x1="388.5" y1="37.42" x2="386.2" y2="37.42" stroke="#1a1a1a" stroke-width="1" />
<line x1="679.5" y1="37.42" x2="681.8" y2="37.42" stroke="#1a1a1a" stroke-width="1" />
<line x1="388.5" y1="26.76" x2="386.2" y2="26.76" stroke="#1a1a1a" stroke-width="1" />
<line x1="679.5" y1="26.76" x2="681.8" y2="26.76" stroke="#1a1a1a" stroke-width="1" />
<line x1="388.5" y1="16.1" x2="384" y2="16.1" stroke="#1a1a1a" stroke-width="1" />
<line x1="679.5" y1="16.1" x2="684" y2="16.1" stroke="#1a1a1a" stroke-width="1" />
<line x1="388.5" y1="5.44" x2="386.2" y2="5.44" stroke="#1a1a1a" stroke-width="1" />
<line x1="679.5" y1="5.44" x2="681.8" y2="5.44" stroke="#1a1a1a" stroke-width="1" />
<text x="380.3" y="232.7" font-size="10" fill="#1a1a1a" text-anchor="end" >0</text>
<text x="380.3" y="179.4" font-size="10" fill="#1a1a1a" text-anchor="end" >25</text>
<text x="380.3" y="126.1" font-size="10" fill="#1a1a1a" text-anchor="end" >50</text>
<text x="380.3" y="72.8" font-size="10" fill="#1a1a1a" text-anchor="end" >75</text>
<text x="380.3" y="19.5" font-size="10" fill="#1a1a1a" text-anchor="end" >100</text>
<text x="390.4" y="18" font-size="12.2" fill="#1a1a1a" text-anchor="start" >(c)</text>
<text font-size="12.3" fill="#1a1a1a" text-anchor="middle" transform="translate(358.8,121.9) rotate(-90)">Oxidized fraction, [M<tspan font-size="7.9" dy="-4.2">y+</tspan><tspan dy="4.2">] / ([M</tspan><tspan font-size="7.9" dy="-4.2">y+</tspan><tspan dy="4.2">] + [M</tspan><tspan font-size="7.9" dy="-4.2">x+</tspan><tspan dy="4.2">]) (%)</tspan></text>
<text font-size="9.1" fill="#9420f2" text-anchor="end" transform="translate(418.35,253.9) rotate(-45)">TiN</text>
<text font-size="9.1" fill="#1a1a1a" text-anchor="end" transform="translate(442.6,253.9) rotate(-45)">V<tspan font-size="6.6" dy="2.2">2</tspan><tspan dy="-2.2">O</tspan><tspan font-size="6.6" dy="2.2">5</tspan></text>
<text font-size="9.1" fill="#1a1a1a" text-anchor="end" transform="translate(466.85,253.9) rotate(-45)">MnO<tspan font-size="6.6" dy="2.2">2</tspan></text>
<text font-size="9.1" fill="#1a1a1a" text-anchor="end" transform="translate(491.1,253.9) rotate(-45)">Fe<tspan font-size="6.6" dy="2.2">2</tspan><tspan dy="-2.2">O</tspan><tspan font-size="6.6" dy="2.2">3</tspan></text>
<text font-size="9.1" fill="#1a1a1a" text-anchor="end" transform="translate(515.35,253.9) rotate(-45)">Fe<tspan font-size="6.6" dy="2.2">3</tspan><tspan dy="-2.2">O</tspan><tspan font-size="6.6" dy="2.2">4</tspan></text>
<text font-size="9.1" fill="#1a1a1a" text-anchor="end" transform="translate(539.6,253.9) rotate(-45)">Co<tspan font-size="6.6" dy="2.2">3</tspan><tspan dy="-2.2">O</tspan><tspan font-size="6.6" dy="2.2">4</tspan></text>
<text font-size="9.1" fill="#1a1a1a" text-anchor="end" transform="translate(563.85,253.9) rotate(-45)">Cu<tspan font-size="6.6" dy="2.2">2</tspan><tspan dy="-2.2">O</tspan></text>
<text font-size="9.1" fill="#a4a43c" text-anchor="end" transform="translate(588.1,253.9) rotate(-45)">SnF<tspan font-size="6.6" dy="2.2">2</tspan></text>
<text font-size="9.1" fill="#1a1a1a" text-anchor="end" transform="translate(612.35,253.9) rotate(-45)">CeO<tspan font-size="6.6" dy="2.2">2</tspan></text>
<text font-size="9.1" fill="#1a1a1a" text-anchor="end" transform="translate(636.6,253.9) rotate(-45)">Pr<tspan font-size="6.6" dy="2.2">6</tspan><tspan dy="-2.2">O</tspan><tspan font-size="6.6" dy="2.2">11</tspan></text>
<text font-size="9.1" fill="#1a1a1a" text-anchor="end" transform="translate(660.85,253.9) rotate(-45)">Tb<tspan font-size="6.6" dy="2.2">4</tspan><tspan dy="-2.2">O</tspan><tspan font-size="6.6" dy="2.2">7</tspan></text>
<circle cx="412.75" cy="229.3" r="4.3" fill="#fff" stroke="#b866f2" stroke-width="1.3"/>
<line x1="412.75" y1="220.6" x2="412.75" y2="232" stroke="#7a7a7a" stroke-width="0.75" />
<line x1="410.55" y1="220.6" x2="414.95" y2="220.6" stroke="#7a7a7a" stroke-width="0.85" />
<line x1="410.55" y1="232" x2="414.95" y2="232" stroke="#7a7a7a" stroke-width="0.85" />
<path d="M410.55,222.8 L416.15,226.1 L410.55,229.4Z" fill="#9a22ee" stroke="#333" stroke-width="0.6"/>
<circle cx="437" cy="16.1" r="4.3" fill="#fff" stroke="#6040f0" stroke-width="1.3"/>
<path d="M437,12.8 L440.1,15.9 L437,19 L433.9,15.9Z" fill="#5a08f0" stroke="#333" stroke-width="0.6"/>
<circle cx="461.25" cy="16.1" r="4.3" fill="#fff" stroke="#4040f0" stroke-width="1.3"/>
<line x1="461.25" y1="7.5" x2="461.25" y2="25.5" stroke="#7a7a7a" stroke-width="0.75" />
<line x1="459.05" y1="7.5" x2="463.45" y2="7.5" stroke="#7a7a7a" stroke-width="0.85" />
<line x1="459.05" y1="25.5" x2="463.45" y2="25.5" stroke="#7a7a7a" stroke-width="0.85" />
<path d="M461.25,12.8 L464.35,15.9 L461.25,19 L458.15,15.9Z" fill="#2424f4" stroke="#333" stroke-width="0.6"/>
<circle cx="485.5" cy="16.1" r="4.3" fill="#fff" stroke="#4c9cf4" stroke-width="1.3"/>
<line x1="485.5" y1="9.2" x2="485.5" y2="17.2" stroke="#7a7a7a" stroke-width="0.75" />
<line x1="483.3" y1="9.2" x2="487.7" y2="9.2" stroke="#7a7a7a" stroke-width="0.85" />
<line x1="483.3" y1="17.2" x2="487.7" y2="17.2" stroke="#7a7a7a" stroke-width="0.85" />
<path d="M485.5,9.9 L488.6,13 L485.5,16.1 L482.4,13Z" fill="#4596f2" stroke="#333" stroke-width="0.6"/>
<circle cx="509.75" cy="87.1" r="4.3" fill="#fff" stroke="#80f0f8" stroke-width="1.3"/>
<line x1="509.75" y1="78.5" x2="509.75" y2="82" stroke="#7a7a7a" stroke-width="0.75" />
<line x1="507.55" y1="78.5" x2="511.95" y2="78.5" stroke="#7a7a7a" stroke-width="0.85" />
<line x1="507.55" y1="82" x2="511.95" y2="82" stroke="#7a7a7a" stroke-width="0.85" />
<path d="M509.75,78.9 L512.85,82 L509.75,85.1 L506.65,82Z" fill="#48dcec" stroke="#333" stroke-width="0.6"/>
<path d="M507.65,82 L513.05,85.1 L507.65,88.2Z" fill="#48dcec" stroke="#333" stroke-width="0.6"/>
<circle cx="534" cy="87.1" r="4.3" fill="#fff" stroke="#8af28e" stroke-width="1.3"/>
<line x1="534" y1="86.3" x2="534" y2="95.5" stroke="#7a7a7a" stroke-width="0.75" />
<line x1="531.8" y1="86.3" x2="536.2" y2="86.3" stroke="#7a7a7a" stroke-width="0.85" />
<line x1="531.8" y1="95.5" x2="536.2" y2="95.5" stroke="#7a7a7a" stroke-width="0.85" />
<path d="M534,88.5 L537.1,91.6 L534,94.7 L530.9,91.6Z" fill="#4cee6c" stroke="#333" stroke-width="0.6"/>
<circle cx="558.25" cy="229.3" r="4.3" fill="#fff" stroke="#66ee22" stroke-width="1.3"/>
<line x1="558.25" y1="217.5" x2="558.25" y2="238.1" stroke="#7a7a7a" stroke-width="0.75" />
<line x1="556.05" y1="217.5" x2="560.45" y2="217.5" stroke="#7a7a7a" stroke-width="0.85" />
<line x1="556.05" y1="238.1" x2="560.45" y2="238.1" stroke="#7a7a7a" stroke-width="0.85" />
<path d="M556.05,224.6 L561.65,227.9 L556.05,231.2Z" fill="#44d800" stroke="#333" stroke-width="0.6"/>
<circle cx="582.5" cy="229.3" r="4.3" fill="#fff" stroke="#f0f070" stroke-width="1.3"/>
<line x1="582.5" y1="220.5" x2="582.5" y2="232" stroke="#7a7a7a" stroke-width="0.75" />
<line x1="580.3" y1="220.5" x2="584.7" y2="220.5" stroke="#7a7a7a" stroke-width="0.85" />
<line x1="580.3" y1="232" x2="584.7" y2="232" stroke="#7a7a7a" stroke-width="0.85" />
<path d="M580.3,224.2 L585.9,227.5 L580.3,230.8Z" fill="#d6e018" stroke="#333" stroke-width="0.6"/>
<circle cx="606.75" cy="16.1" r="4.3" fill="#fff" stroke="#f2a540" stroke-width="1.3"/>
<line x1="606.75" y1="8.7" x2="606.75" y2="17.1" stroke="#7a7a7a" stroke-width="0.75" />
<line x1="604.55" y1="8.7" x2="608.95" y2="8.7" stroke="#7a7a7a" stroke-width="0.85" />
<line x1="604.55" y1="17.1" x2="608.95" y2="17.1" stroke="#7a7a7a" stroke-width="0.85" />
<path d="M606.75,10.2 L609.85,13.3 L606.75,16.4 L603.65,13.3Z" fill="#f2a020" stroke="#333" stroke-width="0.6"/>
<circle cx="631" cy="87.1" r="4.6" fill="#fff" stroke="#f86040" stroke-width="1.1"/>
<circle cx="631" cy="87.1" r="3.1" fill="#8a8a8a" stroke="none" stroke-width="0"/>
<path d="M631,83.8 L634,86.8 L631,89.8 L628,86.8Z" fill="#f44414" stroke="#4a4a4a" stroke-width="0.7"/>
<circle cx="655.25" cy="122.7" r="4.3" fill="#fff" stroke="#ff3535" stroke-width="1.3"/>
<path d="M655.25,115.4 L658.35,118.5 L655.25,121.6 L652.15,118.5Z" fill="#ee1414" stroke="#333" stroke-width="0.6"/>
<rect x="414.5" y="160.9" width="237.6" height="43.3" fill="#ffffff" fill-opacity="0.86" stroke="#a0a0a0" stroke-width="0.9"/>
<circle cx="428.6" cy="168.6" r="4.3" fill="#fff" stroke="#333" stroke-width="1.2"/>
<path d="M428.6,178.4 L432.2,182 L428.6,185.6 L425,182Z" fill="#7a7a7a" stroke="#6a6a6a" stroke-width="0.4"/>
<path d="M425.9,192.4 L432.1,196 L425.9,199.6Z" fill="#7a7a7a" stroke="#6a6a6a" stroke-width="0.4"/>
<text x="444.6" y="172.2" font-size="11.3" fill="#1a1a1a" text-anchor="start" >Theoretical oxidized fraction</text>
<text x="444.6" y="186.2" font-size="11.3" fill="#1a1a1a" text-anchor="start" >Experimentally determined, QOS method</text>
<text x="444.6" y="200.2" font-size="11.3" fill="#1a1a1a" text-anchor="start" >Experimentally determined, QRS method</text>
</svg></div>
</body></html>
